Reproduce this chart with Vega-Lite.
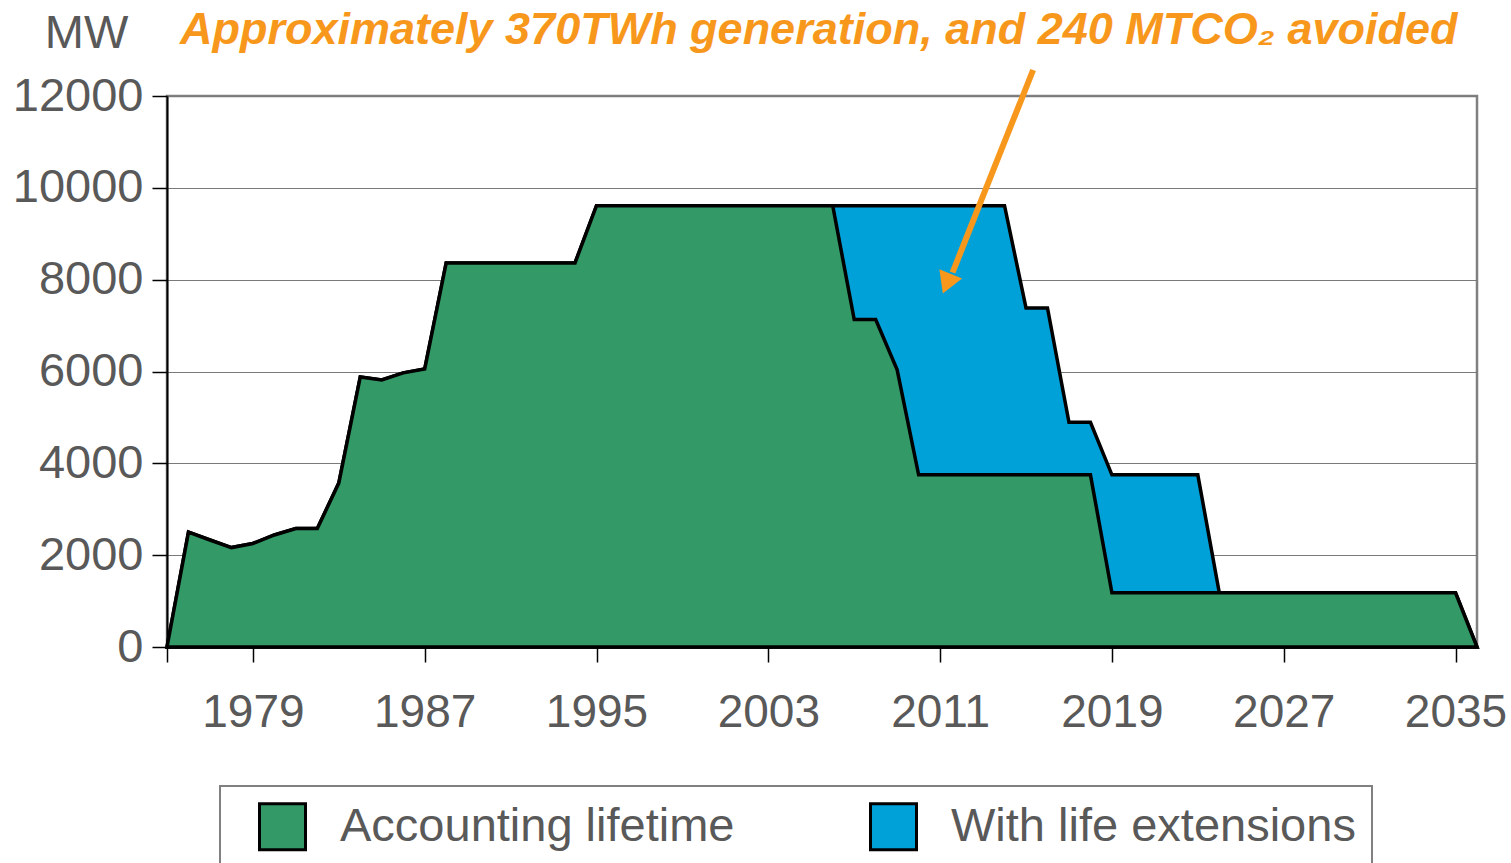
{
  "$schema": "https://vega.github.io/schema/vega-lite/v6.json",
  "width": 1310,
  "height": 551,
  "autosize": {"type": "none"},
  "padding": {"left": 167, "top": 96, "right": 34, "bottom": 216},
  "background": "white",
  "title": {
    "text": "Approximately 370TWh generation, and 240 MTCO₂ avoided",
    "anchor": "start",
    "frame": "group",
    "dx": 13,
    "baseline": "alphabetic",
    "offset": -80,
    "font": "Liberation Sans",
    "fontSize": 45,
    "fontWeight": "bold",
    "fontStyle": "italic",
    "color": "#F7981D"
  },
  "config": {
    "font": "Liberation Sans",
    "view": {"stroke": "#808080", "strokeWidth": 2.5}
  },
  "data": {
    "values": [
      {"year": 1975, "series": "Accounting lifetime", "value": 0},
      {"year": 1976, "series": "Accounting lifetime", "value": 2500},
      {"year": 1977, "series": "Accounting lifetime", "value": 2330},
      {"year": 1978, "series": "Accounting lifetime", "value": 2165},
      {"year": 1979, "series": "Accounting lifetime", "value": 2255},
      {"year": 1980, "series": "Accounting lifetime", "value": 2440},
      {"year": 1981, "series": "Accounting lifetime", "value": 2580},
      {"year": 1982, "series": "Accounting lifetime", "value": 2580},
      {"year": 1983, "series": "Accounting lifetime", "value": 3570},
      {"year": 1984, "series": "Accounting lifetime", "value": 5880},
      {"year": 1985, "series": "Accounting lifetime", "value": 5815},
      {"year": 1986, "series": "Accounting lifetime", "value": 5970},
      {"year": 1987, "series": "Accounting lifetime", "value": 6055},
      {"year": 1988, "series": "Accounting lifetime", "value": 8365},
      {"year": 1989, "series": "Accounting lifetime", "value": 8365},
      {"year": 1990, "series": "Accounting lifetime", "value": 8365},
      {"year": 1991, "series": "Accounting lifetime", "value": 8365},
      {"year": 1992, "series": "Accounting lifetime", "value": 8365},
      {"year": 1993, "series": "Accounting lifetime", "value": 8365},
      {"year": 1994, "series": "Accounting lifetime", "value": 8365},
      {"year": 1995, "series": "Accounting lifetime", "value": 9610},
      {"year": 1996, "series": "Accounting lifetime", "value": 9610},
      {"year": 1997, "series": "Accounting lifetime", "value": 9610},
      {"year": 1998, "series": "Accounting lifetime", "value": 9610},
      {"year": 1999, "series": "Accounting lifetime", "value": 9610},
      {"year": 2000, "series": "Accounting lifetime", "value": 9610},
      {"year": 2001, "series": "Accounting lifetime", "value": 9610},
      {"year": 2002, "series": "Accounting lifetime", "value": 9610},
      {"year": 2003, "series": "Accounting lifetime", "value": 9610},
      {"year": 2004, "series": "Accounting lifetime", "value": 9610},
      {"year": 2005, "series": "Accounting lifetime", "value": 9610},
      {"year": 2006, "series": "Accounting lifetime", "value": 9610},
      {"year": 2007, "series": "Accounting lifetime", "value": 7130},
      {"year": 2008, "series": "Accounting lifetime", "value": 7130},
      {"year": 2009, "series": "Accounting lifetime", "value": 6035},
      {"year": 2010, "series": "Accounting lifetime", "value": 3750},
      {"year": 2011, "series": "Accounting lifetime", "value": 3750},
      {"year": 2012, "series": "Accounting lifetime", "value": 3750},
      {"year": 2013, "series": "Accounting lifetime", "value": 3750},
      {"year": 2014, "series": "Accounting lifetime", "value": 3750},
      {"year": 2015, "series": "Accounting lifetime", "value": 3750},
      {"year": 2016, "series": "Accounting lifetime", "value": 3750},
      {"year": 2017, "series": "Accounting lifetime", "value": 3750},
      {"year": 2018, "series": "Accounting lifetime", "value": 3750},
      {"year": 2019, "series": "Accounting lifetime", "value": 1180},
      {"year": 2020, "series": "Accounting lifetime", "value": 1180},
      {"year": 2021, "series": "Accounting lifetime", "value": 1180},
      {"year": 2022, "series": "Accounting lifetime", "value": 1180},
      {"year": 2023, "series": "Accounting lifetime", "value": 1180},
      {"year": 2024, "series": "Accounting lifetime", "value": 1180},
      {"year": 2025, "series": "Accounting lifetime", "value": 1180},
      {"year": 2026, "series": "Accounting lifetime", "value": 1180},
      {"year": 2027, "series": "Accounting lifetime", "value": 1180},
      {"year": 2028, "series": "Accounting lifetime", "value": 1180},
      {"year": 2029, "series": "Accounting lifetime", "value": 1180},
      {"year": 2030, "series": "Accounting lifetime", "value": 1180},
      {"year": 2031, "series": "Accounting lifetime", "value": 1180},
      {"year": 2032, "series": "Accounting lifetime", "value": 1180},
      {"year": 2033, "series": "Accounting lifetime", "value": 1180},
      {"year": 2034, "series": "Accounting lifetime", "value": 1180},
      {"year": 2035, "series": "Accounting lifetime", "value": 1180},
      {"year": 2036, "series": "Accounting lifetime", "value": 0},
      {"year": 1975, "series": "With life extensions", "value": 0},
      {"year": 1976, "series": "With life extensions", "value": 2500},
      {"year": 1977, "series": "With life extensions", "value": 2330},
      {"year": 1978, "series": "With life extensions", "value": 2165},
      {"year": 1979, "series": "With life extensions", "value": 2255},
      {"year": 1980, "series": "With life extensions", "value": 2440},
      {"year": 1981, "series": "With life extensions", "value": 2580},
      {"year": 1982, "series": "With life extensions", "value": 2580},
      {"year": 1983, "series": "With life extensions", "value": 3570},
      {"year": 1984, "series": "With life extensions", "value": 5880},
      {"year": 1985, "series": "With life extensions", "value": 5815},
      {"year": 1986, "series": "With life extensions", "value": 5970},
      {"year": 1987, "series": "With life extensions", "value": 6055},
      {"year": 1988, "series": "With life extensions", "value": 8365},
      {"year": 1989, "series": "With life extensions", "value": 8365},
      {"year": 1990, "series": "With life extensions", "value": 8365},
      {"year": 1991, "series": "With life extensions", "value": 8365},
      {"year": 1992, "series": "With life extensions", "value": 8365},
      {"year": 1993, "series": "With life extensions", "value": 8365},
      {"year": 1994, "series": "With life extensions", "value": 8365},
      {"year": 1995, "series": "With life extensions", "value": 9610},
      {"year": 1996, "series": "With life extensions", "value": 9610},
      {"year": 1997, "series": "With life extensions", "value": 9610},
      {"year": 1998, "series": "With life extensions", "value": 9610},
      {"year": 1999, "series": "With life extensions", "value": 9610},
      {"year": 2000, "series": "With life extensions", "value": 9610},
      {"year": 2001, "series": "With life extensions", "value": 9610},
      {"year": 2002, "series": "With life extensions", "value": 9610},
      {"year": 2003, "series": "With life extensions", "value": 9610},
      {"year": 2004, "series": "With life extensions", "value": 9610},
      {"year": 2005, "series": "With life extensions", "value": 9610},
      {"year": 2006, "series": "With life extensions", "value": 9610},
      {"year": 2007, "series": "With life extensions", "value": 9610},
      {"year": 2008, "series": "With life extensions", "value": 9610},
      {"year": 2009, "series": "With life extensions", "value": 9610},
      {"year": 2010, "series": "With life extensions", "value": 9610},
      {"year": 2011, "series": "With life extensions", "value": 9610},
      {"year": 2012, "series": "With life extensions", "value": 9610},
      {"year": 2013, "series": "With life extensions", "value": 9610},
      {"year": 2014, "series": "With life extensions", "value": 9610},
      {"year": 2015, "series": "With life extensions", "value": 7385},
      {"year": 2016, "series": "With life extensions", "value": 7385},
      {"year": 2017, "series": "With life extensions", "value": 4895},
      {"year": 2018, "series": "With life extensions", "value": 4895},
      {"year": 2019, "series": "With life extensions", "value": 3750},
      {"year": 2020, "series": "With life extensions", "value": 3750},
      {"year": 2021, "series": "With life extensions", "value": 3750},
      {"year": 2022, "series": "With life extensions", "value": 3750},
      {"year": 2023, "series": "With life extensions", "value": 3750},
      {"year": 2024, "series": "With life extensions", "value": 1180},
      {"year": 2025, "series": "With life extensions", "value": 1180},
      {"year": 2026, "series": "With life extensions", "value": 1180},
      {"year": 2027, "series": "With life extensions", "value": 1180},
      {"year": 2028, "series": "With life extensions", "value": 1180},
      {"year": 2029, "series": "With life extensions", "value": 1180},
      {"year": 2030, "series": "With life extensions", "value": 1180},
      {"year": 2031, "series": "With life extensions", "value": 1180},
      {"year": 2032, "series": "With life extensions", "value": 1180},
      {"year": 2033, "series": "With life extensions", "value": 1180},
      {"year": 2034, "series": "With life extensions", "value": 1180},
      {"year": 2035, "series": "With life extensions", "value": 1180},
      {"year": 2036, "series": "With life extensions", "value": 0}
    ]
  },
  "encoding": {
    "x": {
      "field": "year",
      "type": "quantitative",
      "scale": {"domain": [1975, 2036], "nice": false, "zero": false},
      "axis": {
        "title": null,
        "values": [1975, 1979, 1987, 1995, 2003, 2011, 2019, 2027, 2035],
        "format": "d",
        "labelExpr": "datum.value == 1975 ? '' : datum.label",
        "labelFontSize": 46,
        "labelColor": "#595959",
        "labelFont": "Liberation Sans",
        "labelPadding": 28,
        "labelFlush": false,
        "labelOverlap": false,
        "tickSize": 15,
        "tickColor": "black",
        "tickWidth": 1.5,
        "domainColor": "black",
        "domainWidth": 2,
        "grid": false
      }
    },
    "y": {
      "field": "value",
      "type": "quantitative",
      "stack": null,
      "scale": {"domain": [0, 12000], "nice": false},
      "axis": {
        "title": "MW",
        "titleAngle": 0,
        "titleAlign": "center",
        "titleBaseline": "alphabetic",
        "titleX": -81,
        "titleY": -49,
        "titleFontSize": 47,
        "titleFontWeight": "normal",
        "titleColor": "#595959",
        "titleFont": "Liberation Sans",
        "values": [0, 2000, 4000, 6000, 8000, 10000, 12000],
        "format": "d",
        "labelFontSize": 47,
        "labelColor": "#595959",
        "labelFont": "Liberation Sans",
        "labelPadding": 9,
        "tickSize": 15,
        "tickColor": "black",
        "tickWidth": 1.5,
        "domainColor": "black",
        "domainWidth": 2,
        "grid": true,
        "gridColor": "#7a7a7a",
        "gridWidth": 1.2
      }
    }
  },
  "layer": [
    {
      "transform": [{"filter": "datum.series === 'With life extensions'"}],
      "mark": {"type": "area", "stroke": "black", "strokeWidth": 3.5, "strokeJoin": "miter"},
      "encoding": {
        "color": {
          "field": "series",
          "type": "nominal",
          "scale": {"domain": ["Accounting lifetime", "With life extensions"], "range": ["#339966", "#00A0D8"]},
          "legend": {
            "title": null,
            "orient": "none",
            "legendX": 53,
            "legendY": 690,
            "direction": "horizontal",
            "symbolType": "square",
            "symbolSize": 2116,
            "symbolStrokeColor": "black",
            "symbolStrokeWidth": 3,
            "symbolOffset": 22,
            "labelFontSize": 47,
            "labelColor": "#595959",
            "labelFont": "Liberation Sans",
            "labelOffset": 33,
            "labelLimit": 800,
            "columnPadding": 112,
            "padding": 16,
            "strokeColor": "#808080",
            "encode": {"legend": {"update": {"strokeWidth": {"value": 2}}}}
          }
        }
      }
    },
    {
      "transform": [{"filter": "datum.series === 'Accounting lifetime'"}],
      "mark": {"type": "area", "stroke": "black", "strokeWidth": 3.5, "strokeJoin": "miter"},
      "encoding": {
        "color": {
          "field": "series",
          "type": "nominal",
          "scale": {"domain": ["Accounting lifetime", "With life extensions"], "range": ["#339966", "#00A0D8"]},
          "legend": {
            "title": null,
            "orient": "none",
            "legendX": 53,
            "legendY": 690,
            "direction": "horizontal",
            "symbolType": "square",
            "symbolSize": 2116,
            "symbolStrokeColor": "black",
            "symbolStrokeWidth": 3,
            "symbolOffset": 22,
            "labelFontSize": 47,
            "labelColor": "#595959",
            "labelFont": "Liberation Sans",
            "labelOffset": 33,
            "labelLimit": 800,
            "columnPadding": 112,
            "padding": 16,
            "strokeColor": "#808080",
            "encode": {"legend": {"update": {"strokeWidth": {"value": 2}}}}
          }
        }
      }
    },
    {
      "data": {"values": [{"year": 2015.33, "value": 12566, "year2": 2011.58, "value2": 8156}]},
      "mark": {"type": "rule", "color": "#F7981D", "strokeWidth": 6},
      "encoding": {
        "x2": {"field": "year2"},
        "y2": {"field": "value2"}
      }
    },
    {
      "data": {"values": [{"year": 2011.31, "value": 7912}]},
      "mark": {"type": "point", "shape": "triangle-up", "filled": true, "color": "#F7981D", "opacity": 1, "size": 600, "angle": 202, "strokeWidth": 0}
    }
  ]
}
